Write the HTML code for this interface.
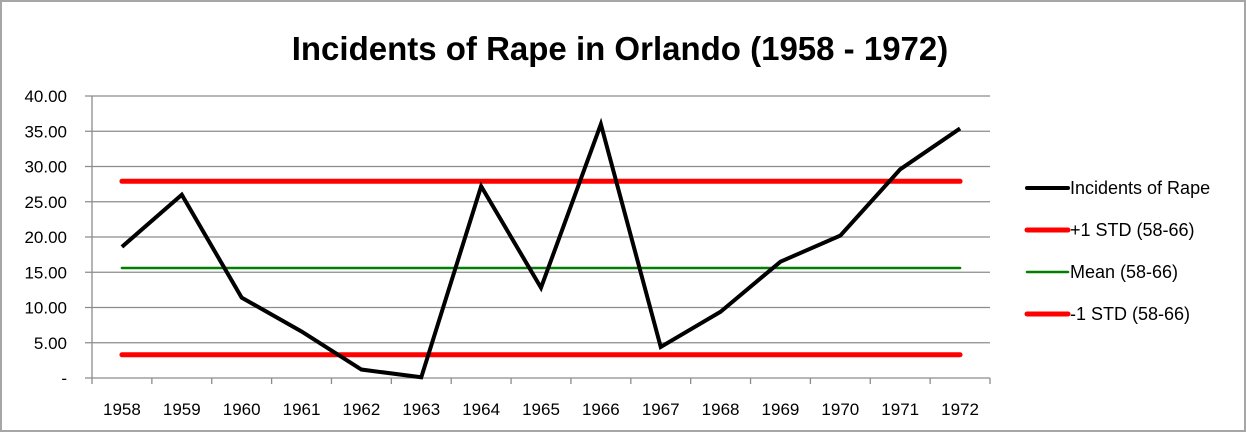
<!DOCTYPE html>
<html><head><meta charset="utf-8"><style>
body{margin:0;background:#fff;}
svg{display:block;font-family:"Liberation Sans",sans-serif;}
</style></head><body>
<svg id="chart" width="1246" height="432">
<rect x="1" y="1" width="1244" height="430" fill="#fff" stroke="#a6a6a6" stroke-width="2"/>
<text x="620" y="60" text-anchor="middle" font-size="33" font-weight="bold">Incidents of Rape in Orlando (1958 - 1972)</text>
<g id="grid"></g><g id="axes"></g><g id="series"></g><g id="legend"></g>
</svg>
<script>
const categories=["1958","1959","1960","1961","1962","1963","1964","1965","1966","1967","1968","1969","1970","1971","1972"];
const incidents=[18.6,26.0,11.4,6.6,1.2,0.1,27.2,12.8,36.0,4.4,9.4,16.5,20.2,29.6,35.4];
const plusStd=27.9;
const meanVal=15.6;
const minusStd=3.3;
const yTicks=[0,5,10,15,20,25,30,35,40];
const yTickLabels=["-","5.00","10.00","15.00","20.00","25.00","30.00","35.00","40.00"];
const legendLabels=["Incidents of Rape","+1 STD (58-66)","Mean (58-66)","-1 STD (58-66)"];

const NS="http://www.w3.org/2000/svg";
const X0=92,X1=990,Y0=378,Y1=96,YMAX=40;
const step=(X1-X0)/categories.length;
const xs=i=>X0+step*(i+0.5);
const ys=v=>Y0-(v/YMAX)*(Y0-Y1);
function mk(t,a,p){const e=document.createElementNS(NS,t);for(const k in a)e.setAttribute(k,a[k]);p.appendChild(e);return e;}
const grid=document.getElementById('grid'),axes=document.getElementById('axes'),ser=document.getElementById('series'),leg=document.getElementById('legend');
yTicks.forEach((v,i)=>{
  const y=ys(v);
  const g=mk('line',{x1:X0-7,x2:X1,y1:y,y2:y,stroke:'#8c8c8c','stroke-width':1.3},grid);
  
  
  const t=mk('text',{x:67,y:y+6,'text-anchor':'end','font-size':17},axes);
  t.textContent=yTickLabels[i];
  
  
});
const ya=mk('line',{x1:X0,x2:X0,y1:Y1,y2:Y0,stroke:'#8c8c8c','stroke-width':1.3},axes);


for(let i=0;i<=categories.length;i++){
  const x=X0+step*i;
  const tk=mk('line',{x1:x,x2:x,y1:Y0,y2:Y0+6,stroke:'#8c8c8c','stroke-width':1.3},axes);
  
  
}
categories.forEach((c,i)=>{
  const t=mk('text',{x:xs(i),y:415,'text-anchor':'middle','font-size':17},axes);
  t.textContent=c;
  
  
});
function hline(v,color,w,name){
  const l=mk('line',{x1:xs(0),x2:xs(categories.length-1),y1:ys(v),y2:ys(v),stroke:color,'stroke-width':w,'stroke-linecap':'round'},ser);
  
  
}
hline(plusStd,'#ff0000',5,'plus-1-std-line');
hline(meanVal,'#008000',2.5,'mean-line');
hline(minusStd,'#ff0000',5,'minus-1-std-line');
const pl=mk('polyline',{points:incidents.map((v,i)=>xs(i)+','+ys(v)).join(' '),fill:'none',stroke:'#000','stroke-width':4,'stroke-linejoin':'miter'},ser);


const legStyles=[['#000',4],['#ff0000',5],['#008000',2.5],['#ff0000',5]];
legendLabels.forEach((s,i)=>{
  const y=188+i*42;
  const l=mk('line',{x1:1027,x2:1068,y1:y,y2:y,stroke:legStyles[i][0],'stroke-width':legStyles[i][1],'stroke-linecap':'round'},leg);
  
  
  const t=mk('text',{x:1070,y:y+6,'font-size':18},leg);
  t.textContent=s;
  
  
});
</script>
</body></html>
